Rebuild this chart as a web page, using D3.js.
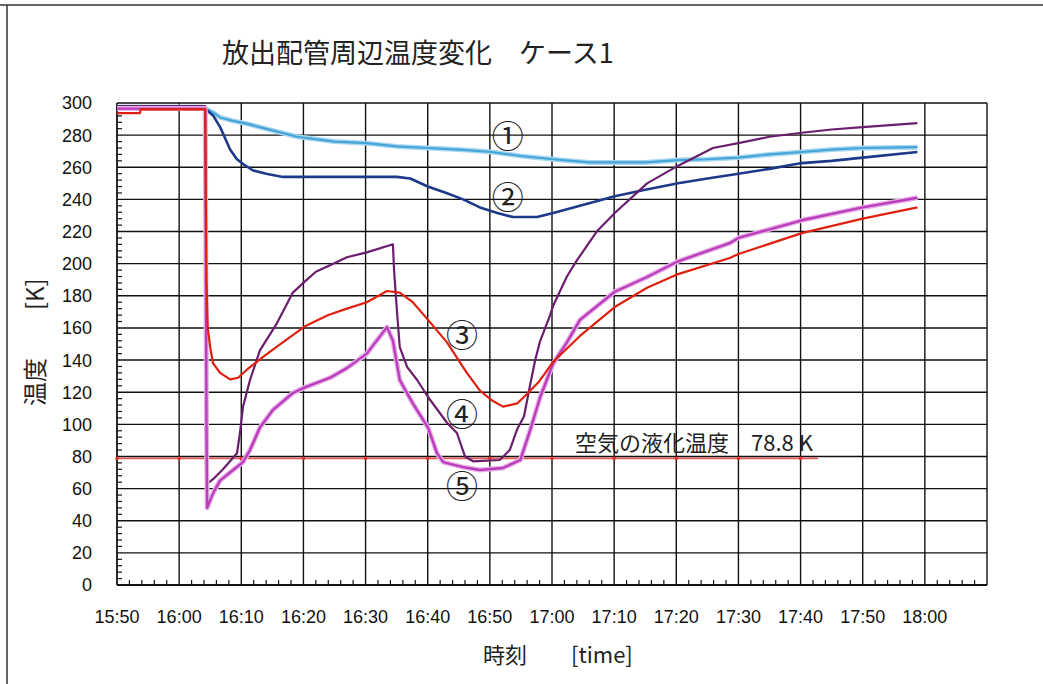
<!DOCTYPE html>
<html>
<head>
<meta charset="utf-8">
<script src="https://cdn.jsdelivr.net/npm/d3@7"></script>
<style>
  body { margin: 0; background: #fff; }
  text { font-family: "Liberation Sans", Arial, sans-serif; }
  .jp { font-family: "Noto Sans CJK JP", sans-serif; }
</style>
</head>
<body>
<div id="chart"></div>
<script>
// minutes after 15:50 -> temperature [K]
const timeLabels = ["15:50","16:00","16:10","16:20","16:30","16:40","16:50","17:00","17:10","17:20","17:30","17:40","17:50","18:00"];
const tempTicks = d3.range(0, 301, 20);
const liquefactionTemp = 78.8;

const curve1 = [[0,297.5],[13.8,297.5],[14.5,296],[15.5,294],[16.6,291],[18.5,289],[21,287],[25,283],[29,279],[35,276],[40.2,275],[45,273],[50,272],[55,271],[60.3,269.5],[65,267],[70.2,265],[76,263],[80,263],[85,263],[90.3,264.5],[95,265],[100,266],[105,268],[110.2,269.5],[115,271],[120,272],[128.8,272.5]];
const curve2 = [[0,297],[13.8,297],[14.5,295.5],[15.5,292],[16.6,285],[17.4,278],[18.2,271],[19.3,265],[20.3,262],[21.9,258],[24,256],[26.7,254],[45,254],[47.2,253],[50,248],[53,244],[55.7,240],[58.4,235],[61.2,231.5],[63.7,229],[67.6,229],[70.2,231.5],[74.5,236],[80.1,242],[85,246],[90.3,250],[95,253],[100,256],[105,259],[110.2,262.6],[115,264],[120,266],[128.8,269.5]];
const curve3 = [[0,293.7],[3.7,293.7],[3.8,296],[14.2,296],[14.3,240],[14.4,190],[14.6,160],[15,148],[15.45,138],[16.6,132],[18.2,128],[19.5,129],[20.9,134],[23.5,142],[27,152],[30.25,161],[34,168],[37,172],[40.2,176],[43.45,183],[45.5,182],[47.6,176],[50.05,165],[53.1,151],[56.3,132],[58.4,121],[60.3,115],[62.1,111],[64.4,113],[66,119],[68,127],[70.2,139],[74.5,155],[80.1,173],[85.3,185],[90.3,193.5],[98.6,203.5],[100,206],[110.2,219],[120,228],[128.8,235]];
const curve4 = [[0,298],[14.2,298],[14.3,200],[14.4,100],[14.5,63],[15.5,66],[17.06,72],[19.31,82],[19.8,95],[20.28,111],[21.4,127.6],[23,146],[25.75,163],[28.3,182],[30.25,189],[32,195],[34.8,200],[37,204],[40.2,207],[43.9,211.5],[44.4,212],[44.6,195],[45.06,170],[45.5,148],[46.7,135.6],[48.3,127.6],[50.05,117],[53.1,101],[54.7,94.6],[56,80],[57.3,77],[61.6,77.8],[63.2,84],[64.4,97],[65.5,105],[66.5,125],[67.3,140],[68.1,152],[69.7,168],[70.2,174],[72.4,192],[74,202],[77.2,220],[80.1,231.5],[85.3,250],[90.3,261],[95.9,272],[100,275],[105,279],[110.2,281.5],[115,283.5],[120,285],[128.8,287.5]];
const curve5 = [[0,296.5],[14.2,296.5],[14.3,200],[14.4,100],[14.5,48],[15.45,57],[16.58,65],[18.18,70],[20.28,76.5],[21.4,84],[23,98],[25.1,109],[28.3,119.5],[30.25,123],[34.3,129],[37,135],[40.2,144],[43.45,160.5],[44.4,152],[45.5,127.6],[47.6,113],[50.05,98],[51.5,82],[52.5,76.5],[55.7,73.4],[58.4,71.6],[62.1,72.8],[64.9,77.8],[66.5,96.5],[68.1,117],[70.2,138],[72.4,151],[74.5,165],[80.1,182.5],[85.3,191.7],[90.3,201.5],[98.6,212.8],[100,216],[110.2,227],[120,235],[128.8,241]];
const refLineRange = [0, 112.8];

const width = 1043, height = 684;
const svg = d3.select("#chart").append("svg")
  .attr("width", width).attr("height", height);

// outer frame (top and left only visible in the scan)
svg.append("line").attr("x1", 0).attr("x2", width).attr("y1", 5).attr("y2", 5)
  .attr("stroke", "#333").attr("stroke-width", 1.5);
svg.append("line").attr("x1", 7).attr("x2", 7).attr("y1", 5).attr("y2", height)
  .attr("stroke", "#333").attr("stroke-width", 1.5);

const x = d3.scaleLinear().domain([0, 140]).range([117, 987]);
const y = d3.scaleLinear().domain([0, 300]).range([585, 103]);

const grid = svg.append("g").attr("stroke", "#111").attr("stroke-width", 1.4);
grid.selectAll("line.v").data(d3.range(10, 141, 10)).enter().append("line")
  .attr("x1", d => x(d)).attr("x2", d => x(d)).attr("y1", y(0)).attr("y2", y(300));
grid.selectAll("line.h").data(tempTicks.filter(d => d > 0)).enter().append("line")
  .attr("x1", x(0)).attr("x2", x(140)).attr("y1", d => y(d)).attr("y2", d => y(d));

// minor ticks
const minor = svg.append("g").attr("stroke", "#111").attr("stroke-width", 1.2);
minor.selectAll("line.mx").data(d3.range(0, 140, 2).filter(d => d % 10)).enter().append("line")
  .attr("x1", d => x(d)).attr("x2", d => x(d)).attr("y1", y(0)).attr("y2", y(0) - 5);
minor.selectAll("line.my").data(d3.range(0, 300, 4).filter(d => d % 20)).enter().append("line")
  .attr("x1", x(0)).attr("x2", x(0) + 5).attr("y1", d => y(d)).attr("y2", d => y(d));

// axes
svg.append("line").attr("x1", x(0)).attr("x2", x(0)).attr("y1", y(0)).attr("y2", y(300))
  .attr("stroke", "#111").attr("stroke-width", 1.8);
svg.append("line").attr("x1", x(0)).attr("x2", x(140)).attr("y1", y(0)).attr("y2", y(0))
  .attr("stroke", "#111").attr("stroke-width", 1.8);

svg.append("g").selectAll("text").data(timeLabels).enter().append("text")
  .attr("x", (d, i) => x(i * 10)).attr("y", 623)
  .attr("text-anchor", "middle").attr("font-size", 18).attr("fill", "#111")
  .text(d => d);
svg.append("g").selectAll("text").data(tempTicks).enter().append("text")
  .attr("x", 92).attr("y", d => y(d)).attr("dy", "0.36em")
  .attr("text-anchor", "end").attr("font-size", 18).attr("fill", "#111")
  .text(d => d);

// reference line: liquefaction temperature of air
svg.append("line")
  .attr("x1", x(refLineRange[0])).attr("x2", x(refLineRange[1]))
  .attr("y1", y(liquefactionTemp)).attr("y2", y(liquefactionTemp))
  .attr("stroke", "#e05a5a").attr("stroke-width", 1.6);
svg.append("g").selectAll("circle").data(d3.range(0, 111, 10)).enter().append("circle")
  .attr("cx", d => x(d)).attr("cy", y(liquefactionTemp)).attr("r", 1.8)
  .attr("fill", "#e03030");

const line = d3.line().x(d => x(d[0])).y(d => y(d[1]));

const series = [
  { data: curve1, color: "#45a4d8", halo: "#a8d6ef", w: 2.2 },
  { data: curve2, color: "#1d3a8a", halo: null, w: 2.6 },
  { data: curve4, color: "#6a1e6e", halo: null, w: 2.2 },
  { data: curve5, color: "#bb3cbc", halo: "#e6b0e6", w: 2.4 },
  { data: curve3, color: "#e0200e", halo: null, w: 2.2 }
];
series.forEach(s => {
  if (s.halo) {
    svg.append("path").datum(s.data).attr("d", line)
      .attr("fill", "none").attr("stroke", s.halo).attr("stroke-width", 5)
      .attr("stroke-linejoin", "round");
  }
  svg.append("path").datum(s.data).attr("d", line)
    .attr("fill", "none").attr("stroke", s.color).attr("stroke-width", s.w)
    .attr("stroke-linejoin", "round");
});

// curve number labels
const curveLabels = [
  { t: "①", at: [62.9, 279] },
  { t: "②", at: [62.9, 241] },
  { t: "③", at: [55.5, 155] },
  { t: "④", at: [55.5, 106] },
  { t: "⑤", at: [55.5, 61] }
];
svg.append("g").selectAll("text").data(curveLabels).enter().append("text")
  .attr("class", "jp")
  .attr("x", d => x(d.at[0])).attr("y", d => y(d.at[1])).attr("dy", "0.35em")
  .attr("text-anchor", "middle").attr("font-size", 32).attr("fill", "#222")
  .text(d => d.t);

svg.append("text").attr("class", "jp")
  .attr("x", x(73.7)).attr("y", y(liquefactionTemp) - 7)
  .attr("font-size", 22).attr("fill", "#222")
  .text("空気の液化温度　" + liquefactionTemp + " K");

// titles
svg.append("text").attr("class", "jp")
  .attr("x", 222).attr("y", 63).attr("font-size", 27).attr("fill", "#222")
  .text("放出配管周辺温度変化　ケース1");
svg.append("text").attr("class", "jp")
  .attr("x", 483).attr("y", 663).attr("font-size", 22).attr("fill", "#222")
  .text("時刻　　[time]");
svg.append("text").attr("class", "jp")
  .attr("transform", "translate(44,406) rotate(-90)")
  .attr("font-size", 24).attr("fill", "#222")
  .text("温度　　[K]");
</script>
</body>
</html>
